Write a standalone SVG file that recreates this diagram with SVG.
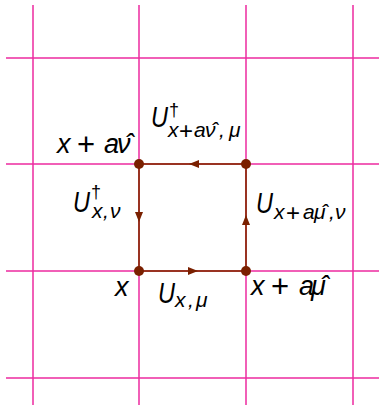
<svg xmlns="http://www.w3.org/2000/svg" width="379" height="405" viewBox="0 0 379 405">
<style>
.grid{stroke:#ec2a9f;stroke-width:1.5;fill:none}
.edge{stroke:#993322;stroke-width:2;fill:none;marker-mid:url(#arr)}
.node{fill:#7a2000}
text{font-family:"Liberation Sans",Arial,sans-serif;fill:#000}
.it{font-style:italic}
.big{font-size:30px}
.sub{font-size:21px}
.lab{font-size:27px}
.pl{font-style:normal;font-size:31px}
.spl{font-style:normal;font-size:24px}
.dag{font-style:normal;font-size:18px}
</style>
<defs>
<marker id="arr" markerUnits="userSpaceOnUse" markerWidth="10" markerHeight="8" refX="10" refY="4" orient="auto">
<path d="M0,0 L10,4 L0,8 z" fill="#7a2000"/>
</marker>
</defs>
<g id="grid">
<line class="grid" x1="33" y1="5" x2="33" y2="405"/>
<line class="grid" x1="139" y1="5" x2="139" y2="405"/>
<line class="grid" x1="246" y1="5" x2="246" y2="405"/>
<line class="grid" x1="353" y1="5" x2="353" y2="405"/>
<line class="grid" x1="6" y1="58" x2="379" y2="58"/>
<line class="grid" x1="6" y1="164" x2="379" y2="164"/>
<line class="grid" x1="6" y1="271" x2="379" y2="271"/>
<line class="grid" x1="6" y1="378" x2="379" y2="378"/>
</g>
<g id="connectors">
<path class="edge" d="M139,271 L198,271 L246,271"/>
<path class="edge" d="M246,271 L246,215 L246,164"/>
<path class="edge" d="M246,164 L189,164 L139,164"/>
<path class="edge" d="M139,164 L139,222 L139,271"/>
</g>
<g id="n_x"><circle class="node" cx="139" cy="271" r="5"/>
<text class="it lab" x="115" y="296">x</text></g>
<g id="n_xmu"><circle class="node" cx="246" cy="271" r="5"/>
<text class="it lab" y="295"><tspan x="251">x</tspan><tspan class="pl" x="271" y="297">+</tspan><tspan x="299" y="295">a</tspan><tspan x="311">μ̂</tspan></text></g>
<g id="n_xnu"><circle class="node" cx="139" cy="164" r="5"/>
<text class="it lab" y="153"><tspan x="57">x</tspan><tspan class="pl" x="77" y="155">+</tspan><tspan x="104" y="153">a</tspan><tspan x="117">ν̂</tspan></text></g>
<g id="n_xmunu"><circle class="node" cx="246" cy="164" r="5"/></g>
<g id="l_top">
<text class="it sub"><tspan class="big" x="151" y="127" textLength="17" lengthAdjust="spacingAndGlyphs">U</tspan><tspan class="dag" x="169" y="116">†</tspan><tspan x="168" y="137">x</tspan><tspan class="spl" x="179" y="139">+</tspan><tspan x="194" y="137">a</tspan><tspan x="205">ν̂</tspan><tspan x="219">,</tspan><tspan x="229">μ</tspan></text>
</g>
<g id="l_left">
<text class="it sub"><tspan class="big" x="73" y="212" textLength="17" lengthAdjust="spacingAndGlyphs">U</tspan><tspan class="dag" x="91" y="198">†</tspan><tspan x="92" y="218">x</tspan><tspan x="103">,</tspan><tspan x="110">ν</tspan></text>
</g>
<g id="l_right">
<text class="it sub"><tspan class="big" x="256" y="213" textLength="17" lengthAdjust="spacingAndGlyphs">U</tspan><tspan x="274" y="219">x</tspan><tspan class="spl" x="286" y="221">+</tspan><tspan x="303" y="219">a</tspan><tspan x="314">μ̂</tspan><tspan x="329">,</tspan><tspan x="335">ν</tspan></text>
</g>
<g id="l_bottom">
<text class="it sub"><tspan class="big" x="158" y="303" textLength="17" lengthAdjust="spacingAndGlyphs">U</tspan><tspan x="175" y="307">x</tspan><tspan x="188">,</tspan><tspan x="196">μ</tspan></text>
</g>
</svg>
